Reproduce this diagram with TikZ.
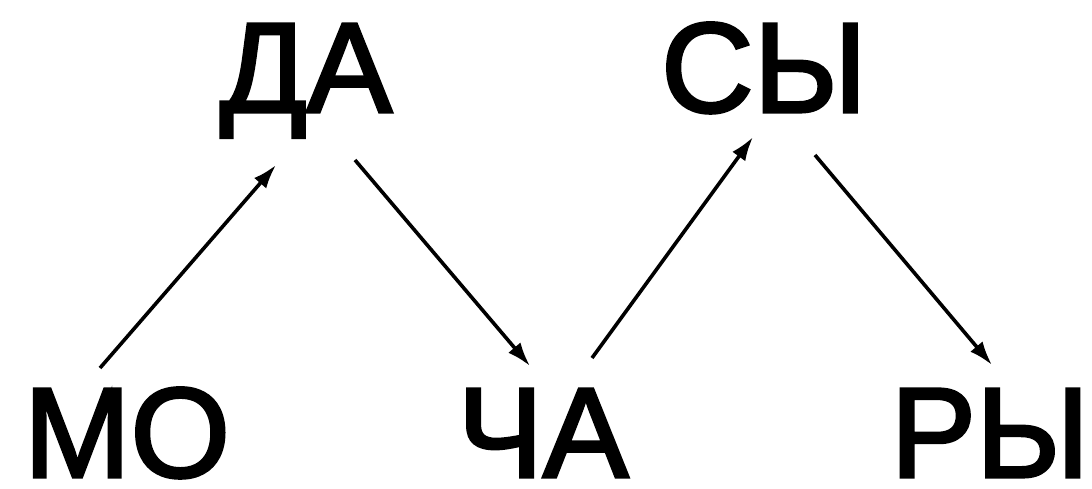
\documentclass[tikz,border=0pt]{standalone}
\usepackage{fontspec}
\setmainfont{Liberation Sans}
\newfontfamily\sylfont[FakeBold=2.4]{Liberation Sans}
\usepackage{tikz}
\usetikzlibrary{arrows.meta}

\begin{document}
\begin{tikzpicture}[
    x=0.5pt, y=-0.5pt,
    syl/.style={inner sep=0pt, text depth=0pt, anchor=base, font=\sylfont\fontsize{64}{64}\selectfont},
    arrow/.style={-{Latex[length=12pt, width=8pt]}, line width=1.8pt}
]
    \useasboundingbox (0,0) rectangle (1092,488);

    % Syllables
    \node[syl] (mo) at (127,477) {МО};
    \node[syl] (da) at (306,112) {ДА};
    \node[syl] (cha) at (543,477) {ЧА};
    \node[syl] (sy) at (764,112) {СЫ};
    \node[syl] (ry) at (990,477) {РЫ};

    % Arrows
    \draw[arrow] ([shift={(-27,-109)}]mo.base) -- ([shift={(-30,53)}]da.base);
    \draw[arrow] ([shift={(49,48)}]da.base) -- ([shift={(-13,-111)}]cha.base);
    \draw[arrow] ([shift={(49,-119)}]cha.base) -- ([shift={(-11,25)}]sy.base);
    \draw[arrow] ([shift={(51,43)}]sy.base) -- ([shift={(2,-112)}]ry.base);
\end{tikzpicture}
\end{document}
